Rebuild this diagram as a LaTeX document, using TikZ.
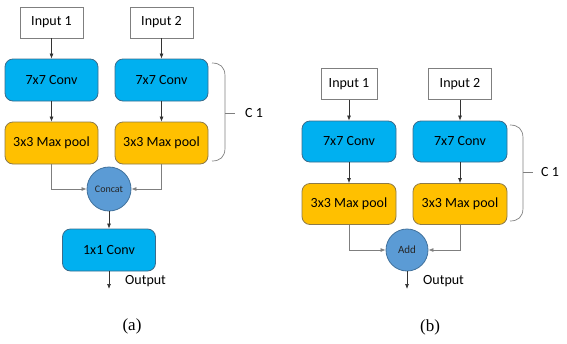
\documentclass[tikz,border=0pt]{standalone}
\usepackage{fontspec}
\setmainfont{Carlito}
\newfontfamily\capfont{Liberation Serif}
\usetikzlibrary{arrows.meta}
\definecolor{convfill}{HTML}{00B0F0}
\definecolor{convline}{HTML}{3A6C8C}
\definecolor{poolfill}{HTML}{FFC000}
\definecolor{poolline}{HTML}{8C7A4A}
\definecolor{circfill}{HTML}{5B9BD5}
\definecolor{circline}{HTML}{41719C}
\definecolor{grayline}{HTML}{7F7F7F}
\tikzset{
  box/.style={draw, line width=0.8pt, rounded corners=8pt, minimum width=93pt, minimum height=42pt, inner sep=0pt, font=\fontsize{14}{16}\selectfont},
  convbox/.style={box, fill=convfill, draw=convline},
  poolbox/.style={box, fill=poolfill, draw=poolline},
  inbox/.style={draw=grayline, line width=0.8pt, fill=white, minimum height=31pt, inner sep=0pt, font=\fontsize{14}{16}\selectfont},
  opcirc/.style={circle, draw=circline, fill=circfill, line width=0.8pt, inner sep=0pt},
  arr/.style={-{Latex[length=5pt,width=4pt]}, line width=0.7pt, draw=black!80},
  garr/.style={-{Latex[length=5pt,width=4pt]}, line width=0.7pt, draw=grayline},
  brk/.style={draw=grayline, line width=0.7pt},
  lbl/.style={font=\fontsize{14}{16}\selectfont, inner sep=0pt},
  captext/.style={font=\capfont\fontsize{17}{19}\selectfont, inner sep=0pt}
}
\begin{document}
\begin{tikzpicture}[x=1pt,y=-1pt]
\useasboundingbox (0,0) rectangle (567,343);
% ---------- (a) ----------
\node[inbox, minimum width=63pt] (in1a) at (51.5,22.5) {Input 1};
\node[inbox, minimum width=63pt] (in2a) at (161.5,22.5) {Input 2};
\node[convbox] (conv1a) at (51.5,80) {7x7 Conv};
\node[convbox] (conv2a) at (161.5,80) {7x7 Conv};
\node[poolbox] (pool1a) at (51.5,143) {3x3 Max pool};
\node[poolbox] (pool2a) at (161.5,143) {3x3 Max pool};
\node[opcirc, minimum size=44pt, font=\fontsize{10}{12}\selectfont, text=black!85] (cat) at (109,189) {Concat};
\node[convbox] (conv3a) at (109,250) {1x1 Conv};
\coordinate (outa) at (109,289);
\node[lbl, anchor=west] (olaba) at (125,281) {Output};
\node[captext] (capa) at (132,326) {(a)};
\draw[arr] (in1a) -- (conv1a);
\draw[arr] (in2a) -- (conv2a);
\draw[arr] (conv1a) -- (pool1a);
\draw[arr] (conv2a) -- (pool2a);
\draw[garr] (pool1a.south) |- (cat.west);
\draw[garr] (pool2a.south) |- (cat.east);
\draw[arr] (cat) -- (conv3a);
\draw[arr] (conv3a.south) -- (outa);
\coordinate (bta) at (212,63);
\coordinate (bba) at (212,161);
\draw[brk] (bta) .. controls (220,63) and (225,67) .. (225,76) -- (225,148) .. controls (225,157) and (220,161) .. (bba);
\coordinate (bma) at (225,113);
\coordinate (bmea) at (235,113);
\draw[brk] (bma) -- (bmea);
\node[lbl, anchor=west] (c1a) at (245,113) {C 1};
% ---------- (b) ----------
\node[inbox, minimum width=56pt] (in1b) at (349,84) {Input 1};
\node[inbox, minimum width=63pt] (in2b) at (460,84) {Input 2};
\node[convbox, minimum width=94pt, minimum height=41pt] (conv1b) at (349,141.5) {7x7 Conv};
\node[convbox, minimum width=94pt, minimum height=41pt] (conv2b) at (460,141.5) {7x7 Conv};
\node[poolbox, minimum width=94pt, minimum height=41pt] (pool1b) at (349,204) {3x3 Max pool};
\node[poolbox, minimum width=94pt, minimum height=41pt] (pool2b) at (460,204) {3x3 Max pool};
\node[opcirc, minimum size=42pt, font=\fontsize{11}{13}\selectfont, text=black!85] (add) at (407,250) {Add};
\coordinate (outb) at (407,289);
\node[lbl, anchor=west] (olabb) at (423,281) {Output};
\node[captext] (capb) at (430,327) {(b)};
\draw[arr] (in1b) -- (conv1b);
\draw[arr] (in2b) -- (conv2b);
\draw[arr] (conv1b) -- (pool1b);
\draw[arr] (conv2b) -- (pool2b);
\draw[garr] (pool1b.south) |- (add.west);
\draw[garr] (pool2b.south) |- (add.east);
\draw[arr] (add.south) -- (outb);
\coordinate (btb) at (510,125);
\coordinate (bbb) at (510,221);
\draw[brk] (btb) .. controls (518,125) and (523,129) .. (523,138) -- (523,208) .. controls (523,217) and (518,221) .. (bbb);
\coordinate (bmb) at (523,172);
\coordinate (bmeb) at (533,172);
\draw[brk] (bmb) -- (bmeb);
\node[lbl, anchor=west] (c1b) at (541,172) {C 1};
\end{tikzpicture}
\end{document}
